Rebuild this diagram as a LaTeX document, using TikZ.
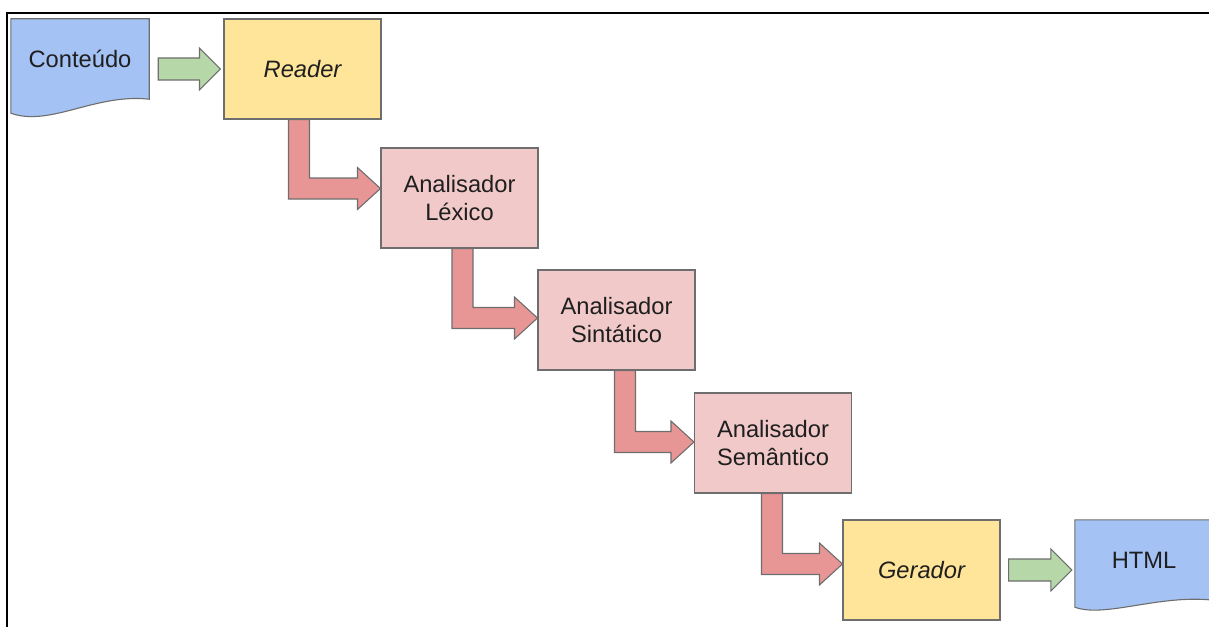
\documentclass[tikz,border=0pt]{standalone}
\usepackage{fontspec}
\setmainfont{Liberation Sans}
\usetikzlibrary{calc,backgrounds}

\definecolor{docblue}{HTML}{A4C2F4}
\definecolor{boxyellow}{HTML}{FFE599}
\definecolor{boxpink}{HTML}{F2C9C9}
\definecolor{arrowred}{HTML}{E89595}
\definecolor{arrowgreen}{HTML}{B6D7A8}
\definecolor{edgegray}{HTML}{6E6E6E}
\definecolor{ink}{HTML}{1F1F1F}

\tikzset{
  outline/.style={draw=edgegray, line width=1.1pt, line join=miter},
  labelfont/.style={text=ink, font=\fontsize{23.7}{28.4}\selectfont},
  stagebox/.style={outline, rectangle, minimum width=157pt, minimum height=100pt,
                   inner sep=0pt, align=center, labelfont},
  yellowbox/.style={stagebox, fill=boxyellow},
  pinkbox/.style={stagebox, fill=boxpink},
  docnode/.style={rectangle, minimum width=138pt, minimum height=80pt,
                  inner sep=0pt, align=center, labelfont},
  docshape/.style={outline, fill=docblue},
  redarrow/.style={outline, fill=arrowred},
  greenarrow/.style={outline, fill=arrowgreen},
}

% L-shaped block arrow: down from the bottom of #1, then right into the west side of #2.
% #3 = horizontal shift of the shaft, #4 = vertical shift of the tip.
\newcommand\bendarrow[4]{%
  \coordinate (#1-#2-a) at ($(#1.south)+(#3,0)$);
  \coordinate (#1-#2-b) at ($(#2.west)+(0,#4)$);
  \filldraw[redarrow]
    ($(#1-#2-a)+(-10.5,0)$) -- ($(#1-#2-a)+(10.5,0)$)
    -- ($(#1-#2-a |- #1-#2-b)+(10.5,-10.5)$)
    -- ($(#1-#2-b)+(-23,-10.5)$) -- ($(#1-#2-b)+(-23,-21)$)
    -- (#1-#2-b)
    -- ($(#1-#2-b)+(-23,21)$) -- ($(#1-#2-b)+(-23,10.5)$)
    -- ($(#1-#2-a |- #1-#2-b)+(-10.5,10.5)$) -- cycle;
}

% Straight block arrow from coordinate #1 to tip #2.
\newcommand\flatarrow[2]{%
  \filldraw[greenarrow]
    ($(#1)+(0,-11)$) -- ($(#2)+(-21,-11)$) -- ($(#2)+(-21,-21)$)
    -- (#2)
    -- ($(#2)+(-21,21)$) -- ($(#2)+(-21,11)$) -- ($(#1)+(0,11)$) -- cycle;
}

\begin{document}
\begin{tikzpicture}[x=1pt, y=-1pt]
  \useasboundingbox (0,0) rectangle (1209,626);

  % frame
  \draw[black, line width=2pt] (7,627) -- (7,13) -- (1210,13);

  % documents
  \node[docnode] (cont) at (80,59) {Conteúdo};
  \node[docnode] (html) at (1144,560) {HTML};
  \begin{scope}[on background layer]
    \filldraw[docshape] (cont.north west) -- (cont.north east) -- (cont.south east)
      .. controls ($(cont.south east)+(-54,-6)$) and ($(cont.south west)+(39,28)$)
      .. ($(cont.south west)+(0,14)$) -- cycle;
    \filldraw[docshape] (html.north west) -- (html.north east) -- (html.south east)
      .. controls ($(html.south east)+(-54,-6)$) and ($(html.south west)+(30,18)$)
      .. ($(html.south west)+(0,7)$) -- cycle;
  \end{scope}

  % processing stages
  \node[yellowbox] (rdr) at (302.5,69)  {\itshape Reader};
  \node[pinkbox]   (lex) at (459.5,198) {Analisador\\Léxico};
  \node[pinkbox]   (sin) at (616.5,320) {Analisador\\Sintático};
  \node[pinkbox]   (sem) at (773,443)   {Analisador\\Semântico};
  \node[yellowbox] (gen) at (921.5,570) {\itshape Gerador};

  % input and output arrows
  \coordinate (in-s)  at ($(cont.east |- rdr.west)+(9,0)$);
  \coordinate (in-t)  at ($(rdr.west)+(-3,0)$);
  \coordinate (out-s) at ($(gen.east)+(8,0)$);
  \coordinate (out-t) at ($(html.west |- gen.east)+(-3,0)$);
  \flatarrow{in-s}{in-t}
  \flatarrow{out-s}{out-t}

  % flow between stages
  \bendarrow{rdr}{lex}{-3.5}{-9.5}
  \bendarrow{lex}{sin}{3}{-2}
  \bendarrow{sin}{sem}{8.5}{-1}
  \bendarrow{sem}{gen}{-1}{-6}
\end{tikzpicture}
\end{document}
